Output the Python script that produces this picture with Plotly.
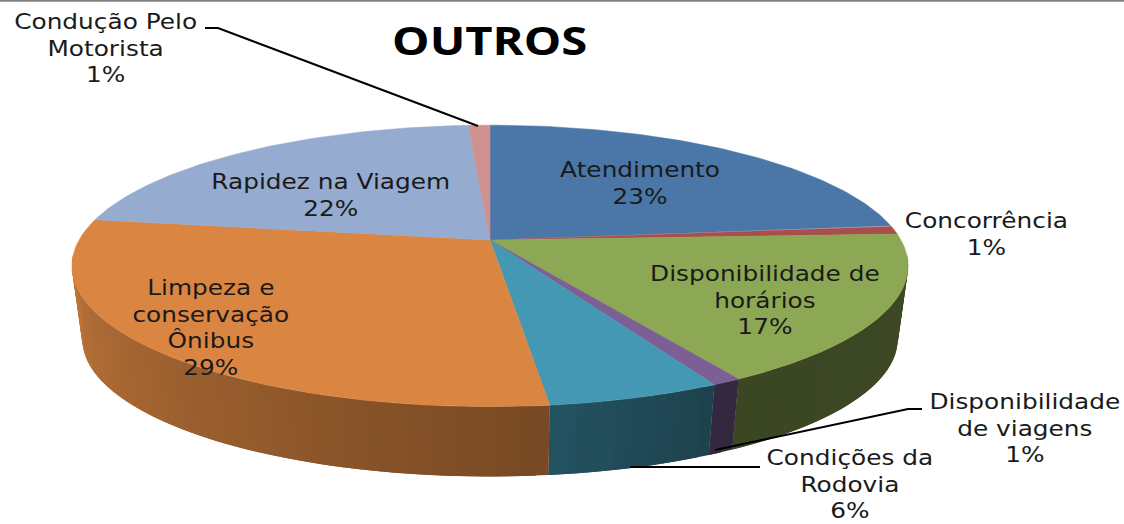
import numpy as np
import plotly.graph_objects as go

categories = ["Atendimento", "Concorrência", "Disponibilidade de<br>horários",
              "Disponibilidade<br>de viagens", "Condições da<br>Rodovia",
              "Limpeza e<br>conservação<br>Ônibus", "Rapidez na Viagem", "Condução Pelo<br>Motorista"]
values = [23.3, 1.0, 17.2, 0.95, 5.65, 29.35, 21.55, 1.0]
colors = ["#4A76A8", "#A84E4C", "#8DA854", "#7B5F95", "#4498B3", "#DA8642", "#95ABD0", "#CF9090"]
title_text = "OUTROS"

W, H = 1124, 524
# label anchor (centre) for each category, in picture coordinates
label_xy = [(640, 183), (986, 234), (765, 300), (1025, 428), (850, 484.5), (211, 328), (330, 195.5), (105, 48)]
# leader lines
leaders = [([205, 218, 478], [28, 28, 126]),
           ([715, 908, 922], [450, 409, 409]),
           ([630, 760], [467, 467])]

# perspective projection of the tilted pie
CX, CY, A, B, K = 490.0, 240.0, 411.0, 136.0, 0.184
DROP, SHRINK = 74.0, 0.975


def top(t):
    w = 1 + K * np.cos(t)
    return CX + A * np.sin(t) / w, CY - B * np.cos(t) / w


def bottom(t):
    w = 1 + K * np.cos(t)
    return CX + SHRINK * A * np.sin(t) / w, CY + DROP - SHRINK * B * np.cos(t) / w


def shade(hex_color, f):
    r, g, b = (int(hex_color[i:i + 2], 16) for i in (1, 3, 5))
    return f"rgb({int(r * f)},{int(g * f)},{int(b * f)})"


fig = go.Figure()
edges = np.cumsum([0] + values) / sum(values) * 2 * np.pi

# side wall: narrow strips, each overlapping the next, so that it carries the gradient
t_lo, t_hi = np.radians(96), np.radians(264)
for i, c in enumerate(colors):
    a, b = max(edges[i], t_lo), min(edges[i + 1], t_hi)
    if a >= b:
        continue
    n = max(1, int(np.degrees(b - a) / 1.5))
    ticks = np.linspace(a, b, n + 1)
    step = ticks[1] - ticks[0]
    for j, (s, e) in enumerate(zip(ticks[:-1], ticks[1:])):
        tt = np.linspace(s, e if j == n - 1 else e + step, 5)
        xt, yt = top(tt)
        xb, yb = bottom(tt[::-1])
        f = float(np.interp(np.degrees((s + e) / 2), [100, 150, 172, 262], [.44, .42, .54, .87]))
        col = shade(c, f)
        fig.add_trace(go.Scatter(x=np.r_[xt, xb], y=np.r_[yt, yb], mode="lines", fill="toself",
                                 fillcolor=col, line=dict(color=col, width=0),
                                 hoverinfo="skip", showlegend=False))

# top face
for i, c in enumerate(colors):
    tt = np.linspace(edges[i], edges[i + 1], 80)
    x, y = top(tt)
    fig.add_trace(go.Scatter(x=np.r_[CX, x, CX], y=np.r_[CY, y, CY], mode="lines", fill="toself",
                             fillcolor=c, line=dict(color=c, width=0.5),
                             name=categories[i].replace("<br>", " "), showlegend=False))

for lx, ly in leaders:
    fig.add_trace(go.Scatter(x=lx, y=ly, mode="lines", line=dict(color="#000000", width=2),
                             hoverinfo="skip", showlegend=False))

annotations = [dict(x=px, y=py, xref="x", yref="y", text=f"{cat}<br>{round(v)}%", showarrow=False,
                    align="center", xanchor="center", yanchor="middle",
                    font=dict(family="DejaVu Sans", size=20.5, color="#1a1a1a"))
               for cat, v, (px, py) in zip(categories, values, label_xy)]
annotations.append(dict(x=489, y=39.5, xref="x", yref="y", text=f"<b>{title_text}</b>", showarrow=False,
                        xanchor="center", yanchor="middle",
                        font=dict(family="Open Sans", size=39, color="#000000")))

fig.update_layout(
    width=W, height=H, margin=dict(l=0, r=0, t=0, b=0),
    paper_bgcolor="white", plot_bgcolor="white", showlegend=False,
    xaxis=dict(range=[0, W], visible=False, fixedrange=True),
    yaxis=dict(range=[H, 0], visible=False, fixedrange=True),
    annotations=annotations,
    shapes=[dict(type="line", xref="x", yref="y", x0=0, x1=W, y0=0.8, y1=0.8,
                 line=dict(color="#808080", width=2))],
)
# page without body margin; the reference's lettering is stretched sideways
post = """
document.documentElement.style.overflow = 'hidden';
document.body.style.margin = '0';
document.querySelectorAll('text.annotation-text').forEach(function (t) {
  t.style.transformBox = 'fill-box';
  t.style.transformOrigin = 'center';
  t.style.transform = 'scaleX(1.21)';
});
"""
fig.write_html("out.html", config={"displayModeBar": False}, post_script=post)
